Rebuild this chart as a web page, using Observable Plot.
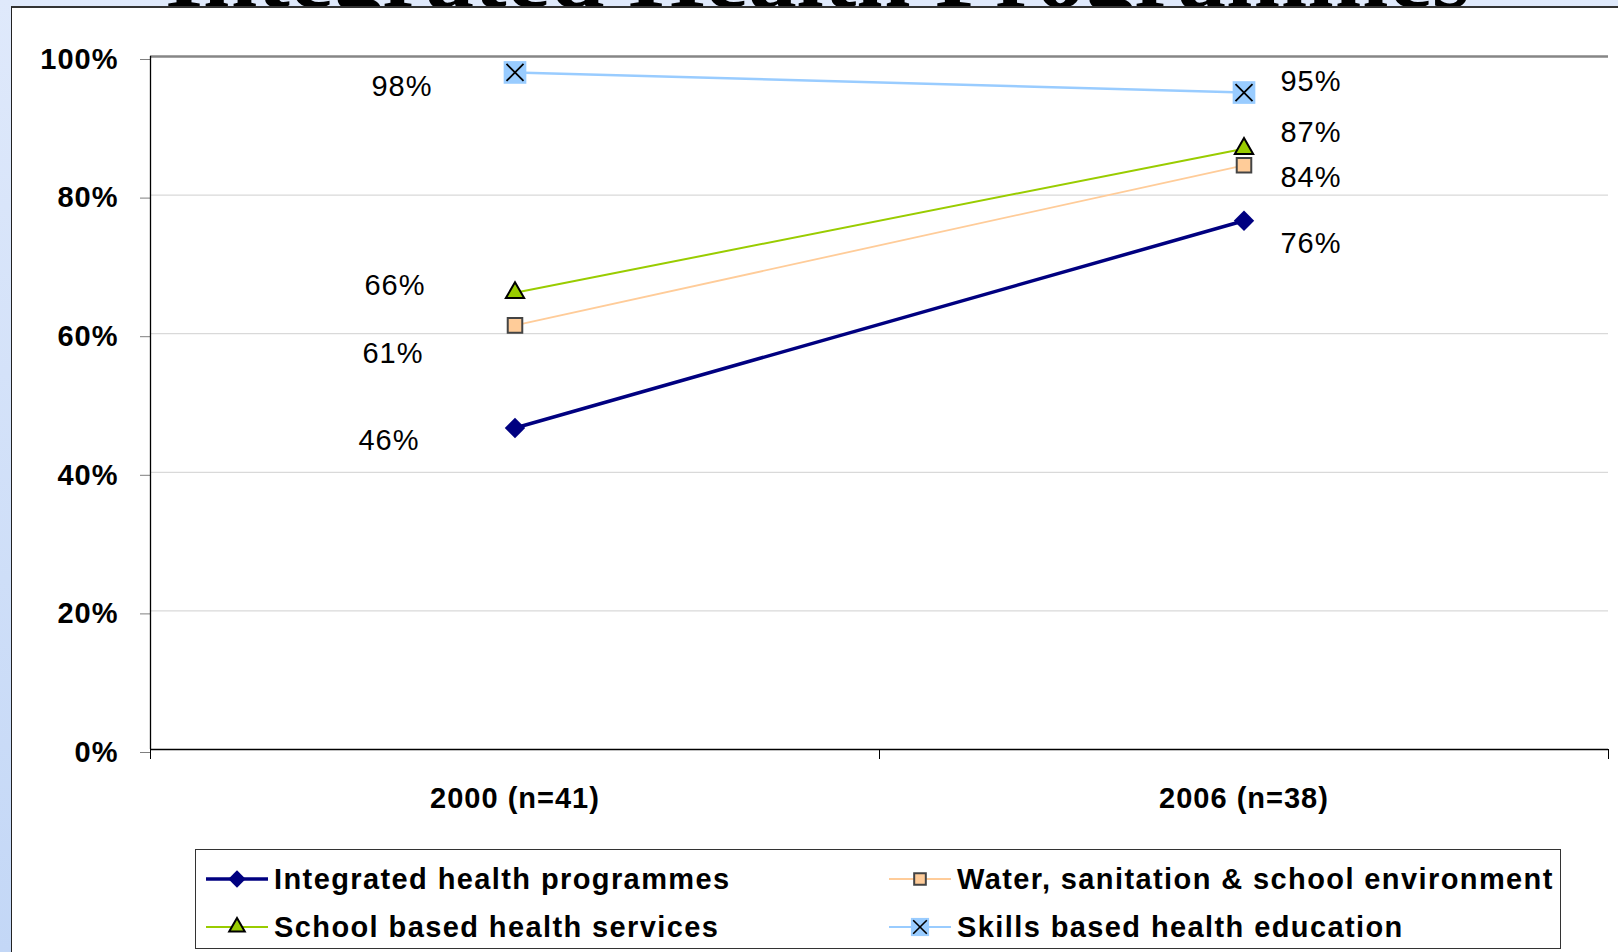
<!DOCTYPE html>
<html><head><meta charset="utf-8">
<script src="https://cdn.jsdelivr.net/npm/d3@7"></script>
<script src="https://cdn.jsdelivr.net/npm/@observablehq/plot@0.6"></script>
<style>
html,body{margin:0;padding:0;width:1618px;height:952px;overflow:hidden;}
body{background:linear-gradient(to bottom,#dfe9fb 0%,#c3d7f6 100%);position:relative;font-family:"Liberation Sans",Arial,sans-serif;}
#title{position:absolute;left:0;top:0;z-index:0;overflow:visible;}
#panel{position:absolute;left:11px;top:6px;right:0;bottom:0;background:#fff;border-left:1.5px solid #222;border-top:2.5px solid #333;z-index:1;}
#chart{position:absolute;left:0;top:0;z-index:2;}
#chart svg text{letter-spacing:1px;}
#legend{position:absolute;left:195px;top:849px;width:1366px;height:100px;border:1.5px solid #333;box-sizing:border-box;z-index:2;background:#fff;}
.item{position:absolute;height:40px;display:flex;align-items:center;white-space:nowrap;}
.item span{font-weight:bold;font-size:29px;letter-spacing:1.4px;color:#000;margin-left:6px;}
</style></head>
<body>
<svg id="title" width="1618" height="60"><text x="165" y="7" font-family="Liberation Serif" font-weight="bold" font-size="97" textLength="1305" lengthAdjust="spacingAndGlyphs">Integrated Health Programmes</text></svg>
<div id="panel"></div>
<div id="chart"></div>
<div id="legend"></div>
<script>
const categories = ["2000 (n=41)", "2006 (n=38)"];
const seriesNames = ["Integrated health programmes", "Water, sanitation & school environment", "School based health services", "Skills based health education"];
const integrated = [46.4, 76.3];
const water = [61.2, 84.3];
const school = [65.9, 86.7];
const skills = [97.7, 94.8];
const yTicks = [0, 20, 40, 60, 80, 100];

const seriesValues = [integrated, water, school, skills];
const rows = [];
seriesNames.forEach((s, k) => seriesValues[k].forEach((v, i) => rows.push({series: s, k, i, value: v})));

// styles
const xSymbol = {draw(ctx, size) { const s = Math.sqrt(size) / 2; ctx.moveTo(-s, -s); ctx.lineTo(s, s); ctx.moveTo(s, -s); ctx.lineTo(-s, s); }};
const styles = [
  {line: "#000080", lw: 3.5, symbol: "diamond2", r: 9.2, fill: "#000080", stroke: "none", sw: 0},
  {line: "#ffcc99", lw: 1.8, symbol: "square", r: 8.2, fill: "#ffcc99", stroke: "#444", sw: 2},
  {line: "#99cc00", lw: 2, symbol: "triangle", r: 6.8, fill: "#99cc00", stroke: "#000", sw: 2},
  {line: "#99ccff", lw: 2.4, symbol: "square", r: 12.8, fill: "#99ccff", stroke: "none", sw: 0, cross: true, crossR: 9.6}
];
// label nudges (layout only)
const nudges = [
  [[-126, 13], [67, 23]],
  [[-122, 28], [67, 12]],
  [[-120, -7], [67, -16]],
  [[-113, 14], [67, -11]]
];

const marks = [
  Plot.ruleY(yTicks.filter(t => t > 0 && t < 100), {stroke: "#d9d9d9", strokeWidth: 1.3}),
  Plot.ruleY([100], {stroke: "#868686", strokeWidth: 2.5}),
  Plot.axisY({ticks: yTicks, tickSize: 10, tickPadding: 22, tickFormat: d => d + "%", fontSize: 29, fontWeight: "bold", stroke: "#7f7f7f", fill: "#000", dy: 3, label: null}),
  Plot.ruleX([0], {stroke: "#000", strokeWidth: 1.3}),
  Plot.ruleY([0], {stroke: "#000", strokeWidth: 1.3}),
  Plot.axisX({ticks: [0, 1, 2], tickSize: 10, tickFormat: () => "", stroke: "#000", label: null}),
  Plot.axisX({ticks: [0.5, 1.5], tickSize: 0, tickPadding: 38, tickFormat: d => categories[Math.round(d - 0.5)], fontSize: 29, fontWeight: "bold", fill: "#000", label: null})
];
seriesNames.forEach((s, k) => {
  const st = styles[k];
  const data = rows.filter(d => d.k === k);
  marks.push(Plot.line(data, {x: d => d.i + 0.5, y: "value", stroke: st.line, strokeWidth: st.lw}));
});
seriesNames.forEach((s, k) => {
  const st = styles[k];
  const data = rows.filter(d => d.k === k);
  marks.push(Plot.dot(data, {x: d => d.i + 0.5, y: "value", symbol: st.symbol, r: st.r, fill: st.fill, stroke: st.stroke, strokeWidth: st.sw}));
  if (st.cross) marks.push(Plot.dot(data, {x: d => d.i + 0.5, y: "value", symbol: xSymbol, r: st.crossR, fill: "none", stroke: "#000", strokeWidth: 1.8}));
});
rows.forEach(d => {
  const [dx, dy] = nudges[d.k][d.i];
  marks.push(Plot.text([d], {x: r => r.i + 0.5, y: "value", text: r => Math.round(r.value) + "%", dx, dy, fontSize: 29, fill: "#000", fontFamily: "Liberation Sans, Arial, sans-serif"}));
});

const chart = Plot.plot({
  width: 1618, height: 800,
  marginTop: 56, marginBottom: 51, marginLeft: 150, marginRight: 10,
  x: {type: "linear", domain: [0, 2], axis: null},
  y: {domain: [0, 100], axis: null},
  style: {background: "transparent", overflow: "visible", fontFamily: "Liberation Sans, Arial, sans-serif"},
  marks
});
document.getElementById("chart").appendChild(chart);

// legend
const legend = document.getElementById("legend");
const pos = [[10, 9], [693, 9], [10, 57], [693, 57]];
seriesNames.forEach((name, k) => {
  const st = styles[k];
  const item = document.createElement("div");
  item.className = "item";
  item.style.left = pos[k][0] + "px";
  item.style.top = pos[k][1] + "px";
  const ns = "http://www.w3.org/2000/svg";
  const sv = document.createElementNS(ns, "svg");
  sv.setAttribute("width", 62); sv.setAttribute("height", 30);
  const ln = document.createElementNS(ns, "line");
  ln.setAttribute("x1", 0); ln.setAttribute("x2", 62); ln.setAttribute("y1", 15); ln.setAttribute("y2", 15);
  ln.setAttribute("stroke", st.line); ln.setAttribute("stroke-width", k === 0 ? 3.5 : 1.8);
  sv.appendChild(ln);
  const sym = st.symbol === "diamond2" ? d3.symbolDiamond2 : st.symbol === "square" ? d3.symbolSquare : d3.symbolTriangle;
  const scale = k === 3 ? 0.8 : k === 1 ? 0.8 : 0.85;
  const p = document.createElementNS(ns, "path");
  p.setAttribute("d", d3.symbol(sym, Math.PI * (st.r * scale) ** 2)());
  p.setAttribute("transform", "translate(31,15)");
  p.setAttribute("fill", st.fill); p.setAttribute("stroke", st.stroke); p.setAttribute("stroke-width", st.sw);
  sv.appendChild(p);
  if (st.cross) {
    const c = document.createElementNS(ns, "path");
    c.setAttribute("d", d3.symbol(xSymbol, Math.PI * (st.crossR * scale) ** 2)());
    c.setAttribute("transform", "translate(31,15)");
    c.setAttribute("fill", "none"); c.setAttribute("stroke", "#000"); c.setAttribute("stroke-width", 1.6);
    sv.appendChild(c);
  }
  item.appendChild(sv);
  const t = document.createElement("span");
  t.textContent = name;
  item.appendChild(t);
  legend.appendChild(item);
});
</script>
</body></html>
